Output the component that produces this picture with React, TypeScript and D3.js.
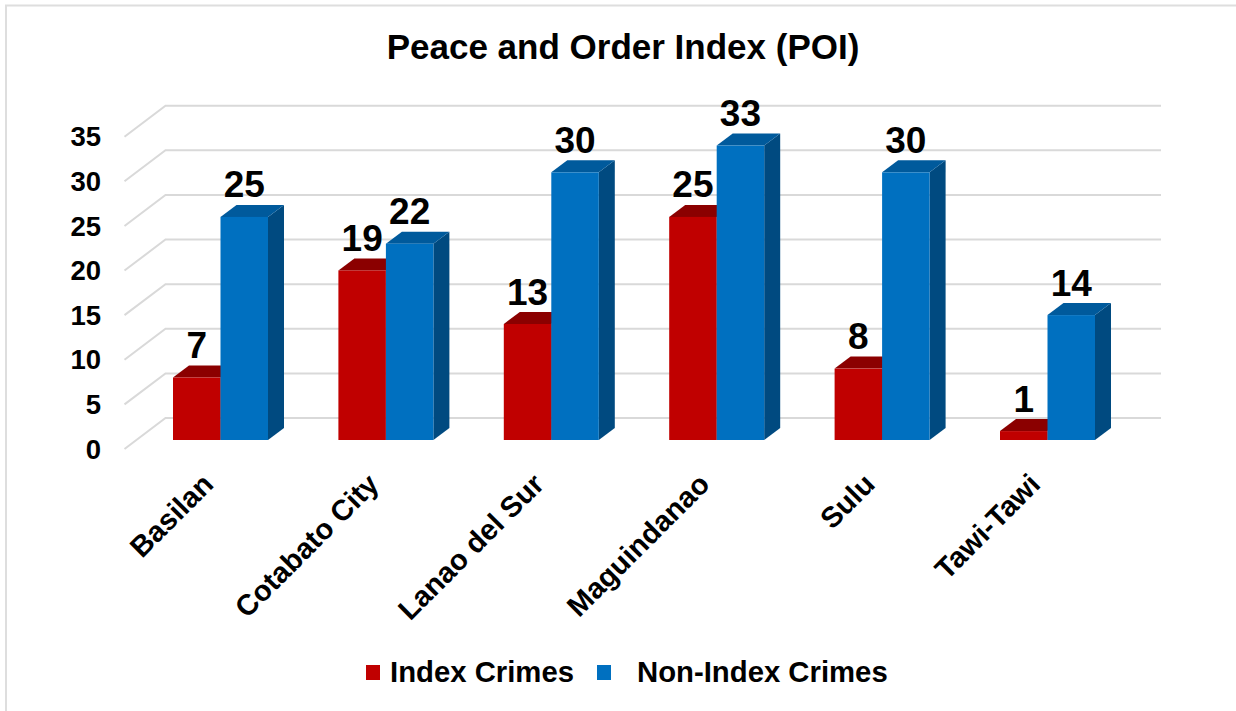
import React from "react";
import * as d3 from "d3";

const categories = ["Basilan", "Cotabato City", "Lanao del Sur", "Maguindanao", "Sulu", "Tawi-Tawi"];
const indexCrimes = [7, 19, 13, 25, 8, 1];
const nonIndexCrimes = [25, 22, 30, 33, 30, 14];
const ticks = [0, 5, 10, 15, 20, 25, 30, 35];
const title = "Peace and Order Index (POI)";
const seriesNames = ["Index Crimes", "Non-Index Crimes"];

const W = 1236, H = 711;
const FONT = '"Liberation Sans", Arial, sans-serif';
const RED = { front: "#C00000", top: "#8B0000", side: "#8B0000" };
const BLUE = { front: "#0070C0", top: "#005A9C", side: "#004A80" };

const yBack = d3.scaleLinear().domain([0, 35]).range([418, 105.7]);
const unit = (v: number) => yBack(0) - yBack(v);
const base = 440;
const x = d3.scaleBand<string>().domain(categories).range([173 - 30, 173 - 30 + 165.4 * 6]).paddingInner(0);
const barW = 47.5;
const dx = 16, dy = 12;

function Bar({ x0, v, c }: { x0: number; v: number; c: typeof RED }) {
  const t = base - unit(v);
  const x1 = x0 + barW;
  return (
    <g>
      <polygon points={`${x1},${t} ${x1 + dx},${t - dy} ${x1 + dx},${base - dy} ${x1},${base}`} fill={c.side} />
      <polygon points={`${x0},${t} ${x0 + dx},${t - dy} ${x1 + dx},${t - dy} ${x1},${t}`} fill={c.top} />
      <rect x={x0} y={t} width={barW} height={unit(v)} fill={c.front} />
    </g>
  );
}

export default function App() {
  const gridStroke = "#D9D9D9";
  return (
    <svg width={W} height={H} viewBox={`0 0 ${W} ${H}`} style={{ position: "absolute", left: 0, top: 0, display: "block", background: "#fff" }} fontFamily={FONT} fontWeight="bold">
      <path d={`M6,${H} V5.5 H${W}`} fill="none" stroke="#DEDEDE" strokeWidth={2} />
      <text x={623} y={59} textAnchor="middle" fontSize={35} fill="#000">{title}</text>
      {ticks.map((t) => {
        const y = yBack(t);
        return (
          <g key={t}>
            <polyline points={`124.5,${y + 31} 165.5,${y} 1161,${y}`} fill="none" stroke={gridStroke} strokeWidth={2} />
            <text x={101} y={y + 31} dy="0.35em" textAnchor="end" fontSize={27.5} fill="#000">{t}</text>
          </g>
        );
      })}
      {categories.map((c, i) => {
        const x0 = (x(c) as number) + 30;
        const xr = x0 + barW, a = indexCrimes[i], b = nonIndexCrimes[i];
        return (
          <g key={c}>
            <Bar x0={x0} v={a} c={RED} />
            <Bar x0={xr} v={b} c={BLUE} />
            <text x={x0 + barW / 2} y={base - unit(a) - 19.5} textAnchor="middle" fontSize={37} fill="#000">{a}</text>
            <text x={xr + barW / 2} y={base - unit(b) - 19.5} textAnchor="middle" fontSize={37} fill="#000">{b}</text>
            <text transform={`translate(${x0 + 42},486) rotate(-45)`} textAnchor="end" fontSize={29} fill="#000">{c}</text>
          </g>
        );
      })}
      <rect x={366} y={665} width={14} height={15} fill={RED.front} />
      <text x={390} y={682} fontSize={29.3} fill="#000">{seriesNames[0]}</text>
      <rect x={597} y={665} width={14} height={15} fill={BLUE.front} />
      <text x={637} y={682} fontSize={29.3} fill="#000">{seriesNames[1]}</text>
    </svg>
  );
}
